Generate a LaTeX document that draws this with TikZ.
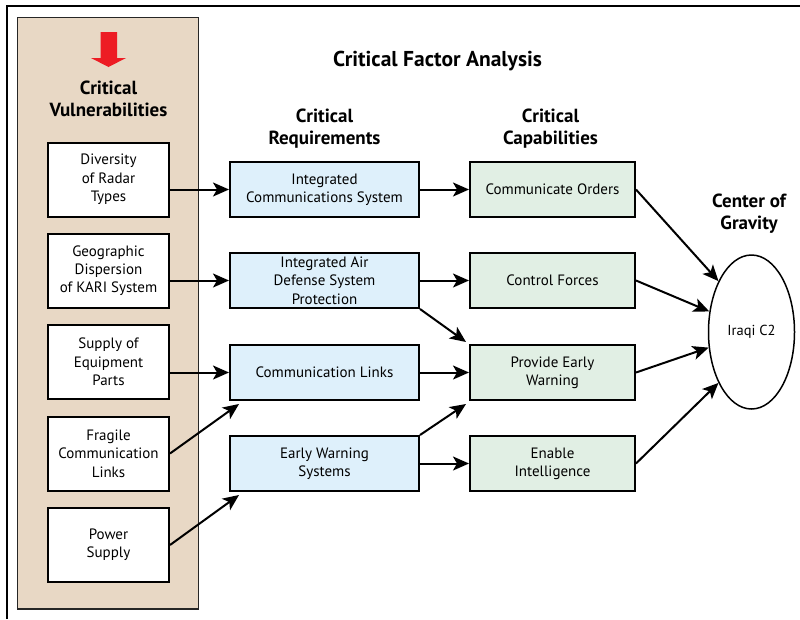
\documentclass[tikz,border=0pt]{standalone}
\usepackage{fontspec}
\setmainfont{PT Sans}
\usetikzlibrary{positioning}
\usetikzlibrary{arrows.meta}
\usetikzlibrary{shapes.geometric}
\usetikzlibrary{calc}
\definecolor{panel}{RGB}{232,216,197}
\definecolor{reqblue}{RGB}{222,240,251}
\definecolor{capgreen}{RGB}{225,239,228}
\definecolor{cvred}{RGB}{237,28,36}
\tikzset{
    box/.style={
        draw,
        line width=2pt,
        align=center,
        inner sep=1pt,
        font=\fontsize{15}{18.3}\selectfont},
    vulnbox/.style={box, fill=white, minimum width=121pt, minimum height=74pt},
    reqbox/.style={box, fill=reqblue, minimum width=189pt, minimum height=55pt},
    capbox/.style={box, fill=capgreen, minimum width=165pt, minimum height=55pt},
    head/.style={align=center, font=\bfseries\fontsize{19}{22}\selectfont},
    link/.style={
        draw,
        line width=2pt,
        -{Stealth[length=16pt,width=14pt,inset=4pt]}}}

\begin{document}
\begin{tikzpicture}[x=1pt,y=-1pt]
        \useasboundingbox (0,0) rectangle (800,619);
        \draw[line width=2pt] (7,619) -- (7,6) -- (800,6);
        \draw[fill=panel, draw=black!85, line width=1.3pt] (17.5,17.5) rectangle (198.5,609);
        \fill[cvred] (100.5,32) -- (117,32) -- (117,58) -- (126,58) -- (108.5,67) -- (91,58) -- (100.5,58) -- cycle;

        \node[head, font=\bfseries\fontsize{21.5}{24}\selectfont] (title) at (437.5,61) {Critical Factor Analysis};
        \node[head] (cvhead) at (108.5,99) {Critical\\Vulnerabilities};
        \node[head] (reqhead) at (324.5,129) {Critical\\Requirements};
        \node[head] (caphead) at (550.5,129) {Critical\\Capabilities};
        \node[head] (coghead) at (749,214) {Center of\\Gravity};

        \node[vulnbox] (cv1) at (108.5,179.5) {Diversity\\of Radar\\Types};
        \node[vulnbox] (cv2) at (108.5,270.5) {Geographic\\Dispersion\\of KARI System};
        \node[vulnbox] (cv3) at (108.5,362) {Supply of\\Equipment\\Parts};
        \node[vulnbox] (cv4) at (108.5,453.5) {Fragile\\Communication\\Links};
        \node[vulnbox] (cv5) at (108.5,545) {Power\\Supply};

        \node[reqbox] (req1) at (324.5,189.5) {Integrated\\Communications System};
        \node[reqbox, below=34pt of req1] (req2) {Integrated Air\\Defense System\\Protection};
        \node[reqbox, below=35pt of req2] (req3) {Communication Links};
        \node[reqbox, below=34pt of req3] (req4) {Early Warning\\Systems};

        \node[capbox, right=49pt of req1] (cap1) {Communicate Orders};
        \node[capbox, right=49pt of req2] (cap2) {Control Forces};
        \node[capbox, right=49pt of req3] (cap3) {Provide Early\\Warning};
        \node[capbox, right=49pt of req4] (cap4) {Enable\\Intelligence};

        \node[ellipse, draw, line width=1.5pt, minimum width=86pt, minimum height=154pt,
            font=\fontsize{14.5}{17}\selectfont] (cog) at (751.5,332) {Iraqi C2};

        \draw[link] (cv1.east |- req1.west) -- (req1.west);
        \draw[link] (cv2.east |- req2.west) -- (req2.west);
        \draw[link] (cv3.east |- req3.west) -- (req3.west);
        \draw[link] (cv4.east) -- ($(req3.south west)+(10,3)$);
        \draw[link] (cv5.east) -- ($(req4.south west)+(10,3)$);

        \draw[link] (req1) -- (cap1);
        \draw[link] (req2) -- (cap2);
        \draw[link] (req3) -- (cap3);
        \draw[link] (req4) -- (cap4);
        \draw[link] (req2.south east) -- ($(cap3.north west)+(-3,-2)$);
        \draw[link] (req4.north east) -- ($(cap3.south west)+(-3,3)$);

        \draw[link] (cap1.east) -- (cog.123);
        \draw[link] (cap2.east) -- (cog.154);
        \draw[link] (cap3.east) -- (cog.200);
        \draw[link] (cap4.east) -- (cog.237);
    \end{tikzpicture}
\end{document}
